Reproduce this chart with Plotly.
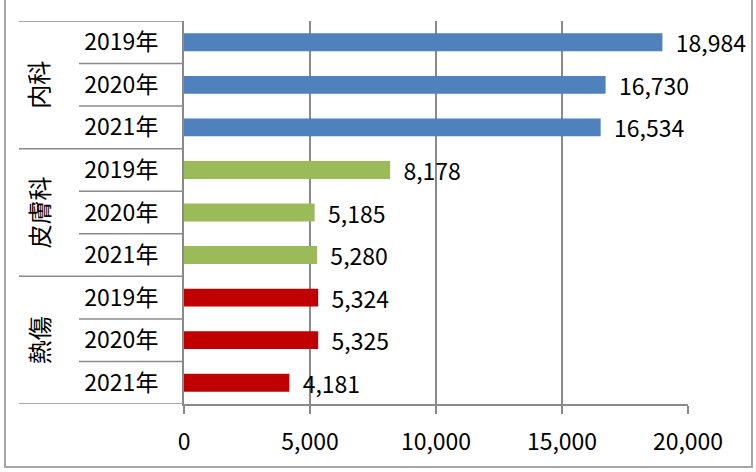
import plotly.graph_objects as go

groups = ["内科", "皮膚科", "熱傷"]
years = ["2019年", "2020年", "2021年"]
naika = [18984, 16730, 16534]
hifuka = [8178, 5185, 5280]
nessho = [5324, 5325, 4181]
colors = ["#4F81BD", "#9BBB59", "#C00000"]
x_ticks = [0, 5000, 10000, 15000, 20000]

FONT = "Noto Sans CJK JP"
W, H = 756, 472
L, R, T, B = 184, 68, 21, 68
PW, PH = W - L - R, H - T - B

def px_x(p):
    return (p - L) / PW

def px_y(p):
    return (H - B - p) / PH

series = [naika, hifuka, nessho]
fig = go.Figure()
cats = []
for gi, (g, vals) in enumerate(zip(groups, series)):
    ys = [f"{g}|{y}" for y in years]
    cats += ys
    fig.add_trace(go.Bar(
        x=vals, y=ys, orientation="h",
        marker=dict(color=colors[gi], line=dict(width=0)),
        texttemplate="\u00a0\u00a0%{x:,}", textposition="outside",
        textfont=dict(family=FONT, size=23, color="black"),
        constraintext="none", cliponaxis=False, showlegend=False,
        width=0.42,
    ))

grid_c = "#8a8a8a"
fig.update_layout(
    width=W, height=H,
    margin=dict(l=L, r=R, t=T, b=B),
    paper_bgcolor="white", plot_bgcolor="white",
    font=dict(family=FONT, size=23, color="black"),
    barmode="group",
    xaxis=dict(range=[0, 20000], tickvals=x_ticks, tickformat=",",
               showgrid=True, gridcolor=grid_c, gridwidth=1.5,
               showline=True, linecolor=grid_c, linewidth=2,
               ticks="outside", ticklen=8, tickcolor=grid_c, tickwidth=1.5,
               ticklabelstandoff=8, zeroline=False,
               tickfont=dict(family=FONT, size=23)),
    yaxis=dict(categoryorder="array", categoryarray=cats,
               range=[len(cats) - 0.5, -0.5],
               tickvals=cats, ticktext=years * 3,
               showline=True, linecolor=grid_c, linewidth=2,
               ticks="", ticklabelstandoff=19, showgrid=False,
               tickfont=dict(family=FONT, size=23)),
)

shapes = []
# dividers between categories
for k in range(len(cats) + 1):
    x0 = px_x(19) if k % 3 == 0 else px_x(79)
    shapes.append(dict(type="line", xref="paper", yref="y",
                       x0=x0, x1=0, y0=k - 0.5, y1=k - 0.5,
                       line=dict(color=grid_c, width=1.5)))
# outer border (left, bottom, right)
bx0, bx1, by0, by1 = px_x(5), px_x(752), px_y(467), px_y(-2)
shapes.append(dict(type="path", xref="paper", yref="paper",
                   path=f"M {bx0} {by1} L {bx0} {by0} L {bx1} {by0} L {bx1} {by1}",
                   line=dict(color="#a6a6a6", width=2)))
fig.update_layout(shapes=shapes)

for gi, g in enumerate(groups):
    fig.add_annotation(x=px_x(38), xref="paper", xanchor="center",
                       y=gi * 3 + 1, yref="y", yanchor="middle",
                       text=g, textangle=-90, showarrow=False,
                       font=dict(family=FONT, size=24, color="black"))

fig.write_html("out.html", config={"displayModeBar": False},
               post_script="document.body.style.margin='0';document.body.style.padding='0';")
